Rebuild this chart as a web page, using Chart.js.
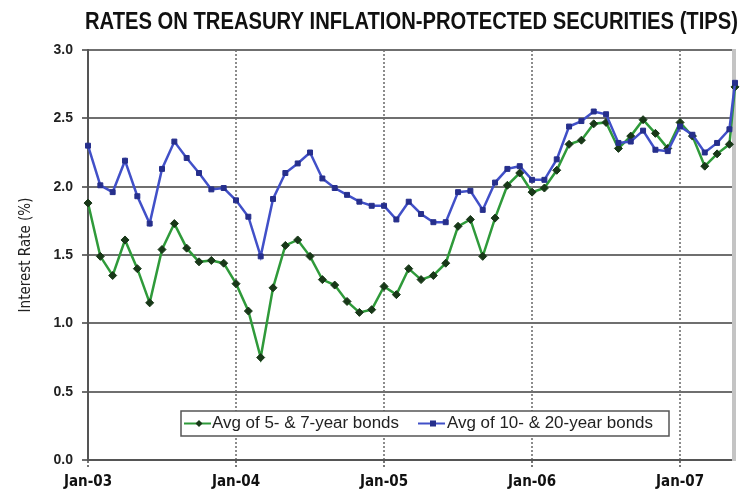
<!DOCTYPE html>
<html>
<head>
<meta charset="utf-8">
<script src="https://cdn.jsdelivr.net/npm/chart.js@4.4.1/dist/chart.umd.min.js"></script>
<style>
  html, body { margin: 0; padding: 0; background: #ffffff; }
  #wrap { width: 749px; height: 492px; }
</style>
</head>
<body>
<div id="wrap"><canvas id="tips" width="749" height="492"></canvas></div>
<script>
// Observation dates (monthly averages; the last entry is a mid-month reading)
const dates = [
  '2003-01-01','2003-02-01','2003-03-01','2003-04-01','2003-05-01','2003-06-01',
  '2003-07-01','2003-08-01','2003-09-01','2003-10-01','2003-11-01','2003-12-01',
  '2004-01-01','2004-02-01','2004-03-01','2004-04-01','2004-05-01','2004-06-01',
  '2004-07-01','2004-08-01','2004-09-01','2004-10-01','2004-11-01','2004-12-01',
  '2005-01-01','2005-02-01','2005-03-01','2005-04-01','2005-05-01','2005-06-01',
  '2005-07-01','2005-08-01','2005-09-01','2005-10-01','2005-11-01','2005-12-01',
  '2006-01-01','2006-02-01','2006-03-01','2006-04-01','2006-05-01','2006-06-01',
  '2006-07-01','2006-08-01','2006-09-01','2006-10-01','2006-11-01','2006-12-01',
  '2007-01-01','2007-02-01','2007-03-01','2007-04-01','2007-05-01','2007-05-15'
];

// Average of 5- & 7-year TIPS yields (%)
const avg5to7 = [
  1.88, 1.49, 1.35, 1.61, 1.40, 1.15, 1.54, 1.73, 1.55, 1.45, 1.46, 1.44,
  1.29, 1.09, 0.75, 1.26, 1.57, 1.61, 1.49, 1.32, 1.28, 1.16, 1.08, 1.10,
  1.27, 1.21, 1.40, 1.32, 1.35, 1.44, 1.71, 1.76, 1.49, 1.77, 2.01, 2.10,
  1.96, 1.99, 2.12, 2.31, 2.34, 2.46, 2.47, 2.28, 2.37, 2.49, 2.39, 2.28,
  2.47, 2.37, 2.15, 2.24, 2.31, 2.73
];

// Average of 10- & 20-year TIPS yields (%)
const avg10to20 = [
  2.30, 2.01, 1.96, 2.19, 1.93, 1.73, 2.13, 2.33, 2.21, 2.10, 1.98, 1.99,
  1.90, 1.78, 1.49, 1.91, 2.10, 2.17, 2.25, 2.06, 1.99, 1.94, 1.89, 1.86,
  1.86, 1.76, 1.89, 1.80, 1.74, 1.74, 1.96, 1.97, 1.83, 2.03, 2.13, 2.15,
  2.05, 2.05, 2.20, 2.44, 2.48, 2.55, 2.53, 2.32, 2.33, 2.41, 2.27, 2.26,
  2.44, 2.38, 2.25, 2.32, 2.42, 2.76
];

const seriesNames = ['Avg of 5- & 7-year bonds', 'Avg of 10- & 20-year bonds'];
const tickDates = ['2003-01-01', '2004-01-01', '2005-01-01', '2006-01-01', '2007-01-01'];
const tickLabels = ['Jan-03', 'Jan-04', 'Jan-05', 'Jan-06', 'Jan-07'];
const chartTitle = 'RATES ON TREASURY INFLATION-PROTECTED SECURITIES (TIPS)';
const yAxisTitle = 'Interest Rate (%)';

// Months elapsed since Jan 2003 (fractional for mid-month dates)
function monthOffset(s) {
  const [y, m, d] = s.split('-').map(Number);
  return (y - 2003) * 12 + (m - 1) + (d - 1) / 31;
}

const xs = dates.map(monthOffset);
const toPoints = vals => vals.map((v, i) => ({ x: xs[i], y: v }));

const SANS = '"Liberation Sans", Arial, sans-serif';
const COND = '"DejaVu Sans Condensed", "Liberation Sans", sans-serif';
const GREEN_LINE = '#2f9a3a', GREEN_MARK = '#183818';
const BLUE_LINE = '#4150c8', BLUE_MARK = '#262f8c';

// Draws text squeezed horizontally so it spans the given width (narrow-face look)
function drawNarrow(ctx, text, x, y, width) {
  const w = ctx.measureText(text).width;
  ctx.save();
  ctx.translate(x, y);
  ctx.scale(width / w, 1);
  ctx.textAlign = 'left';
  ctx.fillText(text, 0, 0);
  ctx.restore();
}

const titlePlugin = {
  id: 'topTitle',
  afterDraw(chart) {
    const ctx = chart.ctx;
    ctx.save();
    ctx.fillStyle = '#111';
    ctx.font = 'bold 24px ' + SANS;
    ctx.textBaseline = 'alphabetic';
    drawNarrow(ctx, chartTitle, 85, 29, 653);
    ctx.restore();
  }
};

const framePlugin = {
  id: 'frame',
  beforeDatasetsDraw(chart) {
    const { ctx, chartArea: a } = chart;
    ctx.save();
    ctx.strokeStyle = '#c4c4c4';
    ctx.lineWidth = 4;
    ctx.beginPath();
    ctx.moveTo(a.right - 1, a.top - 1);
    ctx.lineTo(a.right - 1, a.bottom + 1);
    ctx.stroke();
    ctx.restore();
  }
};

const legendPlugin = {
  id: 'boxLegend',
  afterDraw(chart) {
    const ctx = chart.ctx;
    const box = { x: 181, y: 411, w: 488, h: 25 };
    ctx.save();
    ctx.fillStyle = '#fff';
    ctx.fillRect(box.x, box.y, box.w, box.h);
    ctx.strokeStyle = '#555';
    ctx.lineWidth = 1.5;
    ctx.strokeRect(box.x, box.y, box.w, box.h);
    const cy = box.y + box.h / 2;
    const items = [
      { x: 184, line: GREEN_LINE, mark: GREEN_MARK, shape: 'diamond', text: seriesNames[0], tx: 212, tw: 187 },
      { x: 418, line: BLUE_LINE, mark: BLUE_MARK, shape: 'square', text: seriesNames[1], tx: 447, tw: 206 }
    ];
    ctx.font = '16px ' + SANS;
    ctx.textBaseline = 'middle';
    items.forEach(it => {
      ctx.strokeStyle = it.line;
      ctx.lineWidth = 2;
      ctx.beginPath();
      ctx.moveTo(it.x, cy);
      ctx.lineTo(it.x + 27, cy);
      ctx.stroke();
      ctx.fillStyle = it.mark;
      const mx = it.x + 15;
      if (it.shape === 'diamond') {
        ctx.beginPath();
        ctx.moveTo(mx, cy - 3.5);
        ctx.lineTo(mx + 3.5, cy);
        ctx.lineTo(mx, cy + 3.5);
        ctx.lineTo(mx - 3.5, cy);
        ctx.closePath();
        ctx.fill();
      } else {
        ctx.fillRect(mx - 3, cy - 3, 6, 6);
      }
      ctx.fillStyle = '#222';
      drawNarrow(ctx, it.text, it.tx, cy + 0.5, it.tw);
    });
    ctx.restore();
  }
};

new Chart(document.getElementById('tips'), {
  type: 'line',
  data: {
    datasets: [
      {
        label: seriesNames[0],
        data: toPoints(avg5to7),
        borderColor: GREEN_LINE,
        borderWidth: 2.5,
        pointStyle: 'rectRot',
        pointRadius: 4,
        pointBackgroundColor: GREEN_MARK,
        pointBorderColor: GREEN_MARK,
        pointBorderWidth: 1,
        tension: 0,
        order: 1
      },
      {
        label: seriesNames[1],
        data: toPoints(avg10to20),
        borderColor: BLUE_LINE,
        borderWidth: 2.5,
        pointStyle: 'rect',
        pointRadius: 3.5,
        pointBackgroundColor: BLUE_MARK,
        pointBorderColor: BLUE_MARK,
        pointBorderWidth: 1,
        tension: 0,
        order: 0
      }
    ]
  },
  options: {
    responsive: false,
    animation: false,
    devicePixelRatio: 1,
    clip: false,
    layout: { padding: { top: 50, right: 14, bottom: 0, left: 0 } },
    plugins: {
      legend: { display: false },
      tooltip: { enabled: false },
      title: { display: false }
    },
    scales: {
      x: {
        type: 'linear',
        min: 0,
        max: monthOffset(dates[dates.length - 1]),
        afterBuildTicks(scale) {
          scale.ticks = tickDates.map(d => ({ value: monthOffset(d) }));
        },
        afterFit(scale) { scale.height = 32; },
        ticks: {
          autoSkip: false,
          maxRotation: 0,
          padding: 5,
          color: '#111',
          font: { family: COND, size: 15, weight: 'bold' },
          callback: (v, i) => tickLabels[i]
        },
        grid: {
          color: c => (c.tick && c.tick.value === 0) ? 'rgba(0,0,0,0)' : '#8c8c8c',
          lineWidth: 2,
          tickLength: 8,
          tickColor: '#777',
          tickBorderDash: [2, 2]
        },
        border: { display: true, color: '#555', width: 2, dash: [2, 2] }
      },
      y: {
        min: 0,
        max: 3,
        afterFit(scale) { scale.width = 88; },
        ticks: {
          stepSize: 0.5,
          padding: 9,
          color: '#222',
          font: { family: SANS, size: 14, weight: 'bold' },
          callback: v => Number(v).toFixed(1)
        },
        grid: { color: '#6f6f6f', lineWidth: 2, tickLength: 6, tickColor: '#6f6f6f' },
        border: { display: true, color: '#555', width: 2 },
        title: {
          display: true,
          text: yAxisTitle,
          color: '#222',
          font: { family: COND, size: 15 },
          padding: { top: 17, bottom: 0 }
        }
      }
    }
  },
  plugins: [framePlugin, legendPlugin, titlePlugin]
});
</script>
</body>
</html>
